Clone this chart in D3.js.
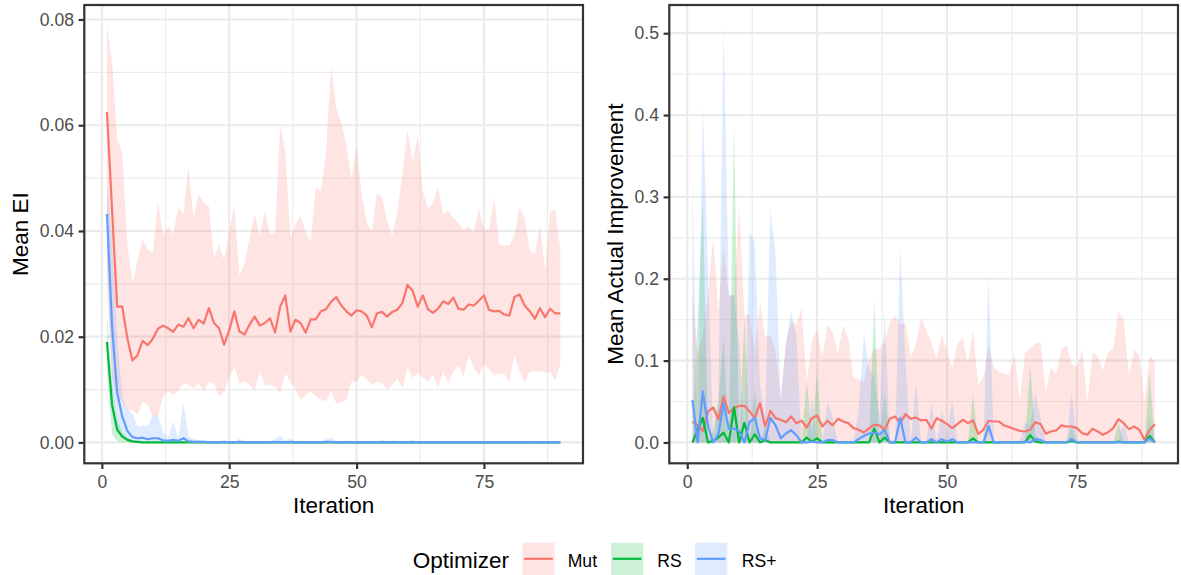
<!DOCTYPE html>
<html><head><meta charset="utf-8">
<script src="https://cdn.jsdelivr.net/npm/d3@7/dist/d3.min.js"></script>
<style>body{margin:0;background:#fff}svg{display:block}text{font-family:"Liberation Sans",Arial,Helvetica,sans-serif}</style>
</head><body><svg id="c" width="1181" height="575"></svg>
<script>
// ---------- DATA ----------
const iterations = d3.range(1, 91);
const optimizers = ["Mut", "RS", "RS+"];
const optColors = ["#F8766D", "#00BA38", "#619CFF"];
const xTicks = [0, 25, 50, 75];
const eiTicks = [0, 0.02, 0.04, 0.06, 0.08];
const aiTicks = [0, 0.1, 0.2, 0.3, 0.4, 0.5];

// Left panel: Mean EI
const eiMutMean = [0.0625,0.044,0.0257,0.0257,0.0197,0.0155,0.0165,0.0192,0.0184,0.0196,
0.0215,0.0221,0.0216,0.0209,0.0223,0.0219,0.0235,0.0216,0.0232,0.0225,
0.0254,0.0226,0.0216,0.0185,0.0212,0.0248,0.0210,0.0204,0.0223,0.0238,
0.0221,0.0226,0.0235,0.0208,0.0257,0.0278,0.0210,0.0232,0.0226,0.0208,
0.0233,0.0233,0.0248,0.0252,0.0266,0.0275,0.0259,0.0248,0.0240,0.0250,
0.0248,0.0240,0.0218,0.0244,0.0247,0.0238,0.0247,0.0251,0.0264,0.0298,
0.0287,0.0257,0.0278,0.0252,0.0245,0.0253,0.0267,0.0262,0.0274,0.0253,
0.0251,0.0261,0.0259,0.0268,0.0278,0.0251,0.0248,0.0249,0.0242,0.0240,
0.0275,0.0280,0.0259,0.0248,0.0234,0.0254,0.0237,0.0253,0.0244,0.0244];
const eiMutHi = [0.0788,0.0721,0.0576,0.0548,0.0374,0.0302,0.0343,0.0384,0.0365,0.0358,
0.0456,0.0393,0.0409,0.0393,0.0447,0.0431,0.0522,0.0425,0.0470,0.0453,
0.0447,0.0349,0.0374,0.0346,0.0399,0.0450,0.0314,0.0339,0.0387,0.0431,
0.0390,0.0438,0.0393,0.0396,0.0601,0.0551,0.0387,0.0412,0.0428,0.0399,
0.0380,0.0483,0.0475,0.0548,0.0712,0.0633,0.0604,0.0563,0.0497,0.0560,
0.0469,0.0415,0.0399,0.0472,0.0464,0.0418,0.0390,0.0437,0.0507,0.0592,
0.0529,0.0582,0.0475,0.0442,0.0453,0.0483,0.0431,0.0438,0.0425,0.0415,
0.0403,0.0409,0.0396,0.0442,0.0403,0.0403,0.0464,0.0375,0.0373,0.0373,
0.0393,0.0445,0.0425,0.0362,0.0356,0.0411,0.0324,0.0437,0.0442,0.0365];
const eiMutLo = [0.030,0.012,0.0084,0.0078,0.0059,0.0062,0.0052,0.0078,0.0071,0.0049,
0.0049,0.0087,0.0097,0.0090,0.0097,0.0112,0.0109,0.0103,0.0112,0.0097,
0.0115,0.0112,0.0087,0.0097,0.0122,0.0144,0.0112,0.0115,0.0109,0.0097,
0.0134,0.0109,0.0109,0.0106,0.0093,0.0131,0.0115,0.0100,0.0081,0.0090,
0.0097,0.0087,0.0081,0.0078,0.0097,0.0074,0.0076,0.0081,0.0115,0.0115,
0.0127,0.0119,0.0109,0.0115,0.0112,0.0100,0.0109,0.0121,0.0103,0.0142,
0.0122,0.0131,0.0123,0.0115,0.0129,0.0103,0.0134,0.0112,0.0134,0.0146,
0.0125,0.0165,0.0141,0.0127,0.0148,0.0138,0.0127,0.0131,0.0129,0.0115,
0.0166,0.0134,0.0114,0.0134,0.0134,0.0134,0.0133,0.0133,0.0117,0.0147];
const eiRSMean = [0.0190,0.0071,0.0024,0.0011,0.0005,0.0002,0.0001,0,0,0,
0,0,0,0,0,0,0,0,0,0, 0,0,0,0,0,0,0,0,0,0, 0,0,0,0,0,0,0,0,0,0,
0,0,0,0,0,0,0,0,0,0, 0,0,0,0,0,0,0,0,0,0, 0,0,0,0,0,0,0,0,0,0,
0,0,0,0,0,0,0,0,0,0, 0,0,0,0,0,0,0,0,0,0];
const eiRSHi = [0.024,0.011,0.0045,0.002,0.001,0.0004,0.0002,0.0001,0,0,
0,0,0,0,0,0,0,0,0,0, 0,0,0,0,0,0,0,0,0,0, 0,0,0,0,0,0,0,0,0,0,
0,0,0,0,0,0,0,0,0,0, 0,0,0,0,0,0,0,0,0,0, 0,0,0,0,0,0,0,0,0,0,
0,0,0,0,0,0,0,0,0,0, 0,0,0,0,0,0,0,0,0,0];
const eiRSLo = [0.013,0.0015,0.0003,0,0,0,0,0,0,0,
0,0,0,0,0,0,0,0,0,0, 0,0,0,0,0,0,0,0,0,0, 0,0,0,0,0,0,0,0,0,0,
0,0,0,0,0,0,0,0,0,0, 0,0,0,0,0,0,0,0,0,0, 0,0,0,0,0,0,0,0,0,0,
0,0,0,0,0,0,0,0,0,0, 0,0,0,0,0,0,0,0,0,0];
const eiRSpMean = [0.0432,0.022,0.0094,0.0049,0.0022,0.0010,0.0008,0.0009,0.0006,0.0008,
0.0008,0.0004,0.0003,0.0005,0.0003,0.0008,0.0002,0.0001,0.0001,0.0001,
0,0,0,0.0001,0,0,0.0001,0,0,0, 0,0,0,0.0001,0,0,0.0001,0,0,0,
0,0,0,0.0001,0.0001,0,0,0,0,0, 0,0,0,0,0,0,0,0,0,0, 0,0,0,0,0,0,0,0,0,0,
0,0,0,0,0,0,0,0,0,0, 0,0,0,0,0,0,0,0,0,0];
const eiRSpHi = [0.050,0.038,0.020,0.0085,0.0062,0.0055,0.0030,0.0032,0.0030,0.0052,
0.0050,0.0020,0.0010,0.0040,0.0008,0.0074,0.0012,0.0006,0.0004,0.0005,
0.0003,0.0002,0.0001,0.0004,0.0002,0.0001,0.0007,0.0003,0.0002,0.0001,
0.0002,0.0001,0.0003,0.0006,0.0013,0.0003,0.0008,0.0002,0.0001,0.0002,
0.0002,0.0003,0.0002,0.0006,0.0009,0.0003,0.0002,0.0004,0.0002,0.0003,
0.0002,0.0001,0.0003,0.0002,0.0005,0.0002,0.0004,0.0003,0.0002,0.0002,
0.0005,0.0002,0.0003,0.0001,0.0002,0.0003,0.0002,0.0003,0.0002,0.0001,
0.0002,0.0002,0.0001,0.0003,0.0002,0.0001,0.0002,0.0001,0.0002,0.0001,
0.0002,0.0001,0.0002,0.0001,0.0001,0.0002,0.0001,0.0001,0.0001,0.0001];
const eiRSpLo = [0.036,0.010,0.003,0.0015,0.0003,0.0001,0,0,0,0,
0,0,0,0,0,0,0,0,0,0, 0,0,0,0,0,0,0,0,0,0, 0,0,0,0,0,0,0,0,0,0,
0,0,0,0,0,0,0,0,0,0, 0,0,0,0,0,0,0,0,0,0, 0,0,0,0,0,0,0,0,0,0,
0,0,0,0,0,0,0,0,0,0, 0,0,0,0,0,0,0,0,0,0];

// Right panel: Mean Actual Improvement
const aiLo = [0,0,0,0,0,0,0,0,0,0, 0,0,0,0,0,0,0,0,0,0, 0,0,0,0,0,0,0,0,0,0,
0,0,0,0,0,0,0,0,0,0, 0,0,0,0,0,0,0,0,0,0, 0,0,0,0,0,0,0,0,0,0,
0,0,0,0,0,0,0,0,0,0, 0,0,0,0,0,0,0,0,0,0, 0,0,0,0,0,0,0,0,0,0];
const aiMutMean = [0.0256,0.0208,0.014,0.0379,0.0427,0.028,0.0562,0.036,0.042,0.0448,
0.0448,0.0379,0.0297,0.048,0.0195,0.0387,0.0297,0.0277,0.0248,0.0317,
0.0236,0.0265,0.0183,0.0297,0.033,0.0195,0.0265,0.0208,0.0289,0.0256,
0.0236,0.0175,0.0155,0.0122,0.0175,0.0216,0.0208,0.0155,0.0289,0.0317,
0.0236,0.0346,0.0289,0.0305,0.0269,0.0277,0.0171,0.0297,0.0265,0.0224,
0.0175,0.0224,0.0277,0.0236,0.0269,0.0106,0.0155,0.0265,0.0256,0.0256,
0.0208,0.0187,0.0163,0.0142,0.0134,0.0155,0.0248,0.0224,0.0106,0.0134,
0.0147,0.0208,0.0195,0.0195,0.0175,0.0114,0.0094,0.0167,0.0134,0.0094,
0.0126,0.0175,0.0285,0.0236,0.0163,0.0195,0.0155,0.0033,0.0155,0.0224];
const aiMutHi = [0.180,0.110,0.130,0.180,0.250,0.160,0.241,0.180,0.180,0.288,
0.155,0.157,0.111,0.172,0.129,0.131,0.111,0.056,0.124,0.148,
0.144,0.164,0.074,0.125,0.137,0.105,0.144,0.134,0.109,0.142,
0.127,0.078,0.078,0.074,0.102,0.114,0.114,0.123,0.147,0.155,
0.144,0.146,0.105,0.119,0.152,0.137,0.121,0.102,0.133,0.111,
0.091,0.119,0.129,0.096,0.137,0.070,0.080,0.119,0.092,0.086,
0.084,0.083,0.109,0.050,0.109,0.115,0.121,0.123,0.062,0.092,
0.084,0.113,0.119,0.096,0.092,0.113,0.048,0.110,0.106,0.088,
0.110,0.115,0.160,0.150,0.081,0.113,0.107,0.050,0.106,0.099];
const aiRSMean = [0,0.015,0.030,0,0.002,0.006,0.012,0,0.043,0,
0.024,0,0.010,0,0.003,0,0,0,0,0, 0,0,0.006,0.001,0.005,0,0,0,0,0,
0,0,0,0,0,0.017,0,0.006,0,0, 0,0,0,0,0,0,0,0,0,0,
0,0,0,0,0.005,0,0,0,0,0, 0,0,0,0,0,0.009,0.001,0,0,0,
0,0,0,0.002,0,0,0,0,0,0, 0,0,0.001,0,0,0,0,0,0.008,0];
const aiRSHi = [0,0.15,0.30,0,0.015,0.05,0.13,0,0.39,0,
0.152,0,0.066,0,0.02,0,0,0,0,0, 0,0,0.075,0.01,0.087,0,0,0,0,0,
0,0,0,0,0,0.174,0,0.062,0,0, 0,0,0,0,0,0,0,0,0,0,
0,0,0,0,0.058,0,0,0,0,0, 0,0,0,0,0,0.093,0.01,0,0,0,
0,0,0,0.02,0,0,0,0,0,0, 0,0,0.024,0,0,0,0,0,0.085,0];
const aiRSpMean = [0.052,0,0.062,0.020,0,0.010,0.048,0.017,0.017,0.014,
0,0.025,0.030,0.005,0.003,0.030,0.021,0.005,0.011,0.015,
0.009,0,0,0.001,0,0,0.003,0.003,0,0,
0,0,0.004,0.008,0.011,0.012,0.010,0.015,0,0,
0.030,0,0,0.006,0,0,0.004,0,0.004,0.001,
0.004,0,0,0,0,0,0,0.020,0,0,
0,0,0,0,0.001,0,0.004,0.003,0,0,
0,0,0,0.004,0,0,0,0,0,0,
0,0,0,0,0,0,0,0,0.005,0];
const aiRSpHi = [0.32,0,0.411,0.21,0,0.05,0.509,0.18,0.18,0.12,
0,0.257,0.245,0.07,0.03,0.285,0.231,0.05,0.12,0.16,
0.13,0,0,0.054,0,0,0.05,0.03,0,0,
0,0,0.04,0.133,0.09,0.08,0.03,0.16,0,0,
0.241,0.10,0,0.072,0,0,0.048,0,0.038,0.01,
0.052,0,0,0,0,0,0,0.203,0,0,
0,0,0,0,0.025,0.02,0.06,0.03,0,0,
0,0,0,0.06,0,0,0,0,0,0,
0,0,0,0.028,0,0,0,0,0.03,0];

// ---------- DRAW ----------
const svg = d3.select("#c");
const FONT = '"Liberation Sans",Arial,Helvetica,sans-serif';
const TICK_FS = 17.6, TITLE_FS = 22.5;

function minorBreaks(ticks, dom) {
  const step = ticks[1] - ticks[0], out = [];
  for (let k = -1; k <= ticks.length; k++) {
    const t = ticks[0] + step * (k + 0.5);
    if (t >= dom[0] && t <= dom[1]) out.push(t);
  }
  return out;
}

function drawPanel(cfg) {
  const b = cfg.box;
  const g = svg.append("g");
  const xe = d3.extent(iterations), xp = (xe[1] - xe[0]) * 0.05;
  const x = d3.scaleLinear().domain([xe[0] - xp, xe[1] + xp]).range([b.x0, b.x1]);
  const lo = d3.min(cfg.series, s => d3.min(s.lo)), hi = d3.max(cfg.series, s => d3.max(s.hi));
  const yp = (hi - lo) * 0.05;
  const y = d3.scaleLinear().domain([lo - yp, hi + yp]).range([b.y1, b.y0]);

  g.append("rect").attr("x", b.x0).attr("y", b.y0).attr("width", b.x1 - b.x0).attr("height", b.y1 - b.y0).attr("fill", "#fff");
  // minor grid
  minorBreaks(xTicks, x.domain()).forEach(t => g.append("line").attr("x1", x(t)).attr("x2", x(t)).attr("y1", b.y0).attr("y2", b.y1).attr("stroke", "#EBEBEB").attr("stroke-width", 1.1));
  minorBreaks(cfg.yTicks, y.domain()).forEach(t => g.append("line").attr("y1", y(t)).attr("y2", y(t)).attr("x1", b.x0).attr("x2", b.x1).attr("stroke", "#EBEBEB").attr("stroke-width", 1.1));
  // major grid
  xTicks.forEach(t => g.append("line").attr("x1", x(t)).attr("x2", x(t)).attr("y1", b.y0).attr("y2", b.y1).attr("stroke", "#EBEBEB").attr("stroke-width", 2.2));
  cfg.yTicks.forEach(t => g.append("line").attr("y1", y(t)).attr("y2", y(t)).attr("x1", b.x0).attr("x2", b.x1).attr("stroke", "#EBEBEB").attr("stroke-width", 2.2));

  const area = d3.area().x((d, i) => x(iterations[i])).y0(d => y(d[0])).y1(d => y(d[1]));
  const line = d3.line().x((d, i) => x(iterations[i])).y(d => y(d));
  cfg.series.forEach(s => {
    g.append("path").datum(s.lo.map((v, i) => [v, s.hi[i]])).attr("d", area).attr("fill", s.color).attr("fill-opacity", 0.2);
  });
  cfg.series.forEach(s => {
    g.append("path").datum(s.mean).attr("d", line).attr("fill", "none").attr("stroke", s.color).attr("stroke-width", 2.2).attr("stroke-linejoin", "round");
  });
  g.append("rect").attr("x", b.x0).attr("y", b.y0).attr("width", b.x1 - b.x0).attr("height", b.y1 - b.y0).attr("fill", "none").attr("stroke", "#333333").attr("stroke-width", 2.2);

  // axes
  const ax = g.append("g").attr("transform", `translate(0,${b.y1})`)
    .call(d3.axisBottom(x).tickValues(xTicks).tickSize(5.7).tickPadding(6.5).tickFormat(d3.format("d")));
  const ay = g.append("g").attr("transform", `translate(${b.x0},0)`)
    .call(d3.axisLeft(y).tickValues(cfg.yTicks).tickSize(5.7).tickPadding(4.6).tickFormat(d3.format(cfg.yFmt)));
  [ax, ay].forEach(a => {
    a.attr("font-family", FONT).attr("font-size", TICK_FS);
    a.select(".domain").remove();
    a.selectAll(".tick line").attr("stroke", "#333333").attr("stroke-width", 2.2);
    a.selectAll(".tick text").attr("fill", "#4D4D4D");
  });

  g.append("text").attr("x", (b.x0 + b.x1) / 2).attr("y", 513).attr("text-anchor", "middle")
    .attr("font-family", FONT).attr("font-size", TITLE_FS).attr("fill", "#000").text("Iteration");
  g.append("text").attr("transform", `translate(${cfg.yTitleX},${(b.y0 + b.y1) / 2}) rotate(-90)`).attr("text-anchor", "middle")
    .attr("font-family", FONT).attr("font-size", TITLE_FS).attr("fill", "#000").text(cfg.yTitle);
}

const eiSeries = [
  {color: optColors[0], mean: eiMutMean, lo: eiMutLo, hi: eiMutHi},
  {color: optColors[1], mean: eiRSMean, lo: eiRSLo, hi: eiRSHi},
  {color: optColors[2], mean: eiRSpMean, lo: eiRSpLo, hi: eiRSpHi}
];
const aiSeries = [
  {color: optColors[0], mean: aiMutMean, lo: aiLo, hi: aiMutHi},
  {color: optColors[1], mean: aiRSMean, lo: aiLo, hi: aiRSHi},
  {color: optColors[2], mean: aiRSpMean, lo: aiLo, hi: aiRSpHi}
];

drawPanel({box: {x0: 84.3, x1: 583, y0: 5, y1: 463.3}, series: eiSeries, yTicks: eiTicks, yFmt: ".2f", yTitle: "Mean EI", yTitleX: 28.3});
drawPanel({box: {x0: 669.3, x1: 1178, y0: 5, y1: 463.3}, series: aiSeries, yTicks: aiTicks, yFmt: ".1f", yTitle: "Mean Actual Improvement", yTitleX: 623.3});

// legend
const lg = svg.append("g");
lg.append("text").attr("x", 412.7).attr("y", 567.5).attr("font-family", FONT).attr("font-size", TITLE_FS).attr("fill", "#000").text("Optimizer");
const keyX = [522.3, 611, 695], labX = [567.7, 657.3, 741.7];
optimizers.forEach((name, i) => {
  lg.append("rect").attr("x", keyX[i]).attr("y", 542.7).attr("width", 32.3).attr("height", 32.3).attr("fill", optColors[i]).attr("fill-opacity", 0.2);
  lg.append("line").attr("x1", keyX[i] + 1.8).attr("x2", keyX[i] + 30.5).attr("y1", 558.8).attr("y2", 558.8).attr("stroke", optColors[i]).attr("stroke-width", 2.2);
  lg.append("text").attr("x", labX[i]).attr("y", 566.5).attr("font-family", FONT).attr("font-size", TICK_FS).attr("fill", "#000").text(name);
});
</script></body></html>
